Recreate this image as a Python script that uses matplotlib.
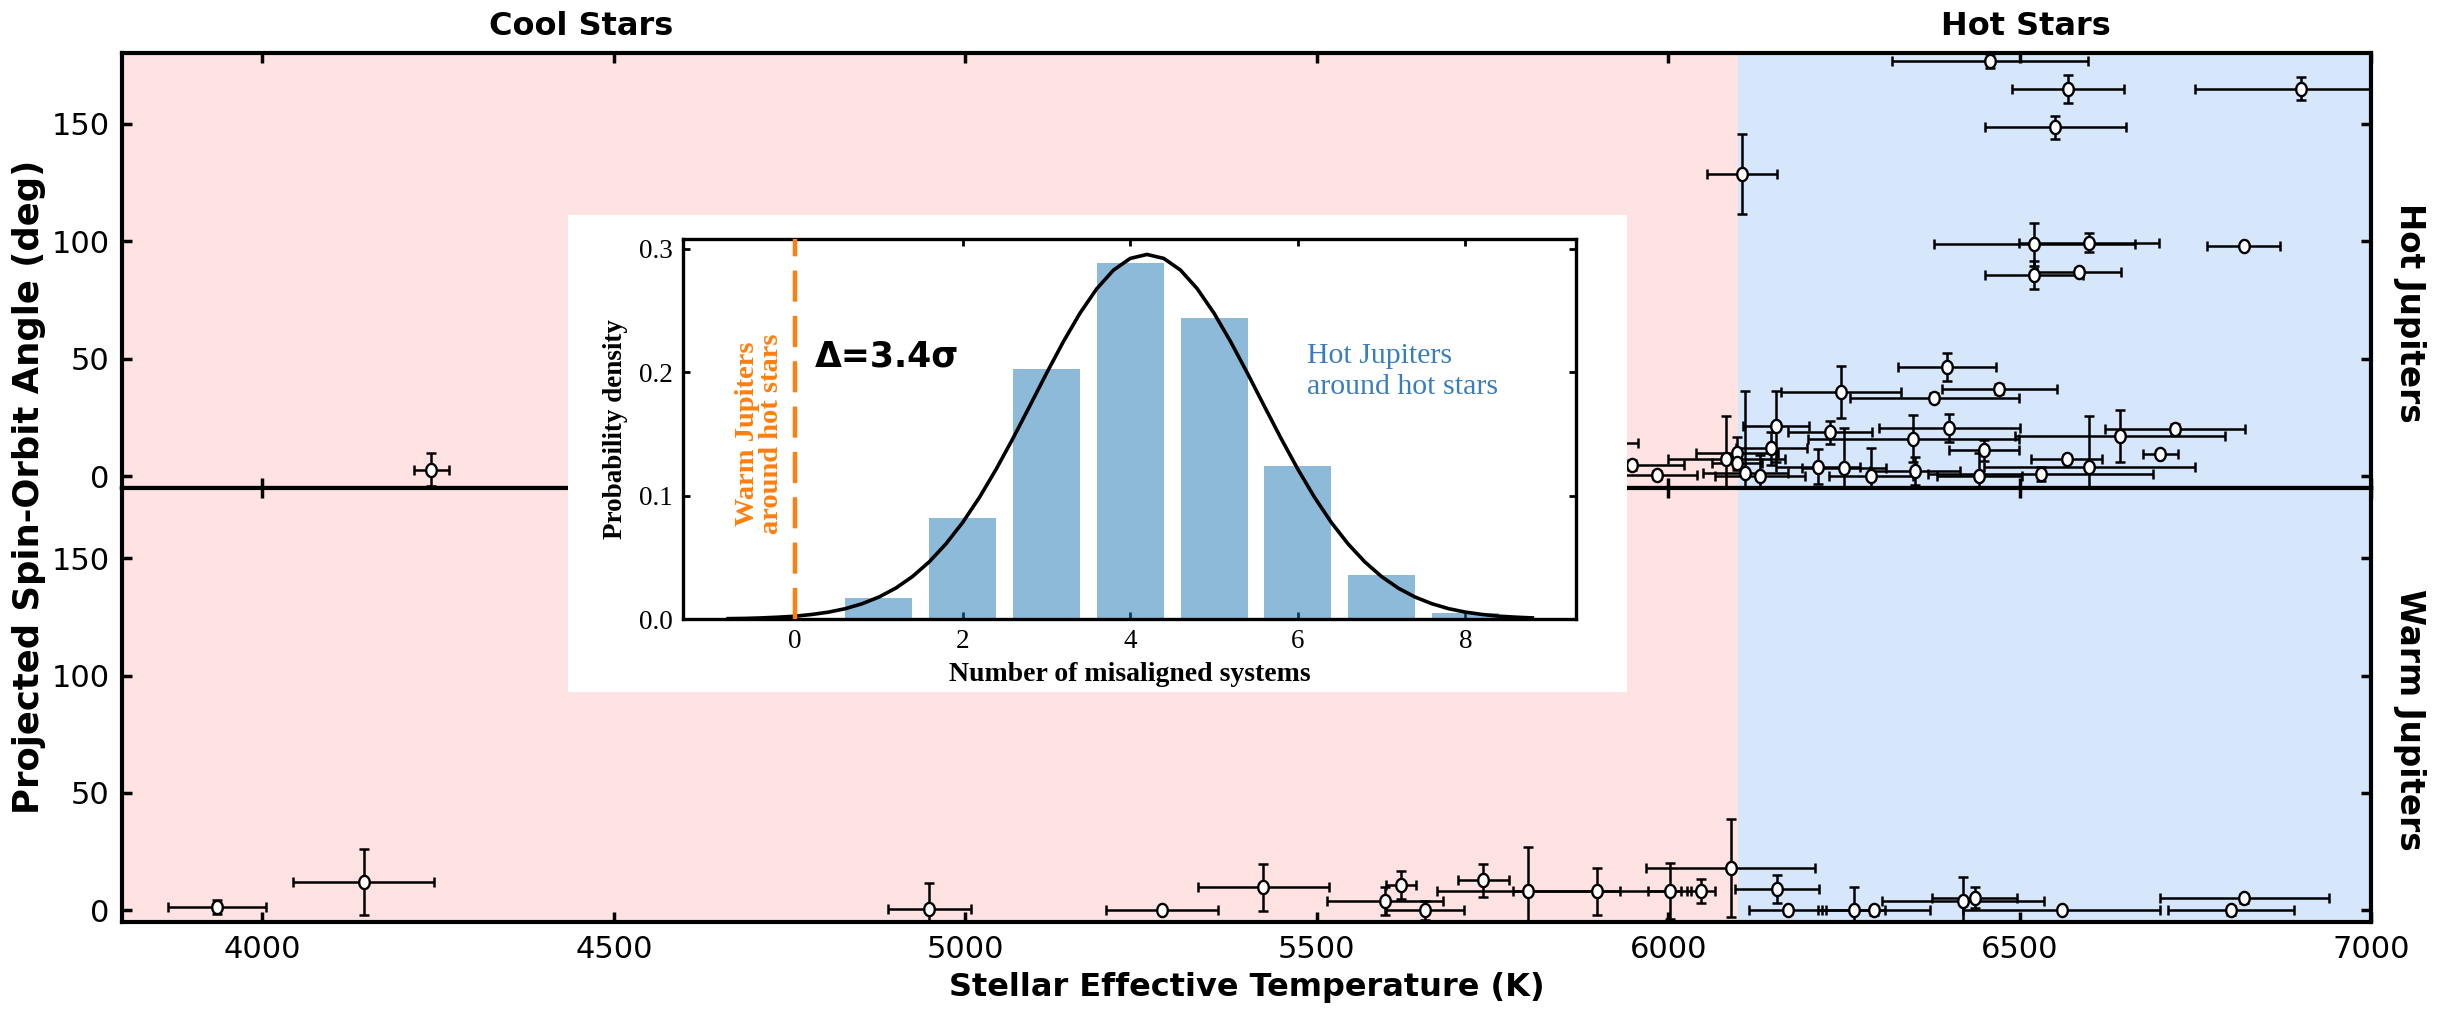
import numpy as np
import matplotlib
matplotlib.use("Agg")
import matplotlib.pyplot as plt
from matplotlib.path import Path

# ---------------- data ----------------
# Hot Jupiters (upper panel): Teff [K], err, projected obliquity [deg], err
hj_teff = [6458, 6569, 6900, 6551, 6105, 6521, 6599, 6819, 6521, 6585,
           4240, 5880, 5948, 5984, 6083, 6098, 6098, 6110, 6131, 6154,
           6147, 6230, 6246, 6213, 6250, 6397, 6471, 6379, 6400, 6349,
           6449, 6567, 6599, 6289, 6351, 6443, 6530, 6643, 6721, 6700]
hj_teff_err = [140, 80, 150, 100, 50, 143, 100, 52, 70, 60,
               25, 77, 75, 57, 83, 58, 35, 60, 64, 47,
               50, 60, 86, 60, 60, 70, 82, 120, 100, 150,
               50, 50, 150, 60, 64, 60, 160, 150, 100, 25]
hj_lambda = [176.4, 164.8, 164.8, 148.4, 128.6, 98.6, 99.3, 97.8, 85.5, 87.0,
             2.7, 14.0, 4.8, 0.5, 7.5, 9.8, 5.4, 1.3, 0.1, 21.2,
             11.9, 18.6, 35.8, 4.1, 3.5, 46.6, 37.0, 33.4, 20.5, 16.0,
             11.0, 7.5, 3.7, 0.0, 2.3, 0.0, 0.8, 17.1, 20.0, 9.6]
hj_lambda_err = [3, 6, 5, 5, 17, 9, 4, 1, 6, 1.5,
                 7, 3, 2, 1.5, 18, 7, 2, 35, 9, 15,
                 7, 5, 11, 7.5, 17, 6, 2, 2, 6, 10,
                 4.5, 1.5, 22, 12, 6, 10, 3, 11, 2, 1.5]

# Warm Jupiters (lower panel)
wj_teff = [3935, 4144, 4949, 5280, 5424, 5597, 5620, 5654, 5737, 5801,
           5899, 6002, 6047, 6089, 6155, 6170, 6264, 6293, 6420, 6436,
           6560, 6820, 6801]
wj_teff_err = [70, 100, 59, 80, 93, 83, 21, 56, 36, 130,
               120, 30, 20, 120, 60, 55, 45, 80, 115, 60,
               140, 120, 90]
wj_lambda = [1.5, 12.2, 0.5, 0.0, 9.9, 4.0, 10.8, 0.0, 12.7, 8.1,
             8.1, 8.1, 8.2, 18.1, 9.2, 0.0, 0.0, 0.0, 4.0, 5.4,
             0.0, 5.1, 0.0]
wj_lambda_err = [3, 14, 11, 1, 10, 6, 6, 4, 7, 19,
                 10, 12, 5, 21, 6, 1.5, 10, 2, 10, 4.5,
                 1, 2, 2]

teff_boundary = 6100
x_ticks = [4000, 4500, 5000, 5500, 6000, 6500, 7000]
y_ticks = [0, 50, 100, 150]

# Inset: number of misaligned systems
n_misaligned = [1, 2, 3, 4, 5, 6, 7, 8]
prob_density = [0.0174, 0.0816, 0.2023, 0.2888, 0.2439, 0.1237, 0.0359, 0.0046]
curve_n = [-0.8, -0.6, -0.4, -0.2, 0.0, 0.2, 0.4, 0.6, 0.8, 1.0,
           1.2, 1.4, 1.6, 1.8, 2.0, 2.2, 2.4, 2.6, 2.8, 3.0,
           3.2, 3.4, 3.6, 3.8, 4.0, 4.2, 4.4, 4.6, 4.8, 5.0,
           5.2, 5.4, 5.6, 5.8, 6.0, 6.2, 6.4, 6.6, 6.8, 7.0,
           7.2, 7.4, 7.6, 7.8, 8.0, 8.2, 8.4, 8.6, 8.8]
curve_pdf = [0.0003, 0.0005, 0.0009, 0.0015, 0.0023, 0.0037, 0.0056, 0.0084, 0.0124, 0.0178,
             0.0250, 0.0344, 0.0463, 0.0609, 0.0783, 0.0986, 0.1215, 0.1464, 0.1726, 0.1991,
             0.2246, 0.2479, 0.2677, 0.2828, 0.2923, 0.2955, 0.2923, 0.2828, 0.2677, 0.2479,
             0.2246, 0.1991, 0.1726, 0.1464, 0.1215, 0.0986, 0.0783, 0.0609, 0.0463, 0.0344,
             0.0250, 0.0178, 0.0124, 0.0084, 0.0056, 0.0037, 0.0023, 0.0015, 0.0009]
warm_hot_misaligned = 0
inset_xticks = [0, 2, 4, 6, 8]
inset_yticks = [0.0, 0.1, 0.2, 0.3]

# ---------------- style ----------------
PINK = "#ffe3e3"
BLUE = "#d6e7fc"
plt.rcParams["font.family"] = ["DejaVu Sans"]

theta = np.linspace(0, 2 * np.pi, 60)
ell_marker = Path(np.column_stack([0.8 * np.cos(theta), np.sin(theta)]), closed=True)

fig = plt.figure(figsize=(24.38, 10.09), dpi=100)
left, width = 0.0500, 0.9225
ax1 = fig.add_axes([left, 0.5164, width, 0.4311])
ax2 = fig.add_axes([left, 0.0862, width, 0.4302])


def style_main(ax, bottom_labels):
    ax.set_xlim(3800, 7000)
    ax.set_ylim(-5, 180)
    ax.axvspan(3800, teff_boundary, color=PINK, zorder=0, lw=0)
    ax.axvspan(teff_boundary, 7000, color=BLUE, zorder=0, lw=0)
    ax.set_xticks(x_ticks)
    ax.set_yticks(y_ticks)
    ax.tick_params(direction="in", top=True, right=True, length=7, width=2.5,
                   labelsize=22, pad=9, labelbottom=bottom_labels)
    for s in ax.spines.values():
        s.set_linewidth(3)
        s.set_zorder(10)


def draw_points(ax, x, xe, y, ye):
    ax.errorbar(x, y, xerr=xe, yerr=ye, fmt="none", ecolor="black",
                elinewidth=1.8, capsize=3.6, capthick=1.8, zorder=3)
    ax.plot(x, y, ls="none", marker=ell_marker, ms=9.5, mfc="white",
            mec="black", mew=1.7, zorder=4)


style_main(ax1, False)
style_main(ax2, True)
draw_points(ax1, hj_teff, hj_teff_err, hj_lambda, hj_lambda_err)
draw_points(ax2, wj_teff, wj_teff_err, wj_lambda, wj_lambda_err)

ax2.set_xlabel("Stellar Effective Temperature (K)", fontsize=23,
               fontweight="bold", labelpad=6)
fig.text(0.012, 0.517, "Projected Spin-Orbit Angle (deg)", rotation=90,
         fontsize=25.5, fontweight="bold", ha="center", va="center")

ax1.text(0.204, 1.025, "Cool Stars", transform=ax1.transAxes, fontsize=23,
         fontweight="bold", ha="center", va="bottom")
ax1.text(0.8466, 1.025, "Hot Stars", transform=ax1.transAxes, fontsize=23,
         fontweight="bold", ha="center", va="bottom")
ax1.text(1.0098, 0.403, "Hot Jupiters", transform=ax1.transAxes, rotation=270,
         fontsize=23.5, fontweight="bold", ha="left", va="center")
ax2.text(1.0098, 0.465, "Warm Jupiters", transform=ax2.transAxes, rotation=270,
         fontsize=23.5, fontweight="bold", ha="left", va="center")

# ---------------- inset ----------------
box = fig.add_axes([0.2330, 0.3142, 0.4344, 0.4727], zorder=5)
box.set_facecolor("white")
box.set_xticks([])
box.set_yticks([])
for s in box.spines.values():
    s.set_visible(False)

ins = fig.add_axes([0.2801, 0.3865, 0.3663, 0.3766], zorder=6)
serif = ["Liberation Serif", "DejaVu Serif"]
ins.bar(n_misaligned, prob_density, width=0.8, color="tab:blue", alpha=0.5,
        lw=0, zorder=2)
ins.plot(curve_n, curve_pdf, color="black", lw=2.6, zorder=3)
ins.axvline(warm_hot_misaligned, color="#ff7f0e", lw=3.2, dashes=(7, 3.2), zorder=4)
ins.set_xlim(-1.34, 9.32)
ins.set_ylim(0, 0.308)
ins.set_xticks(inset_xticks)
ins.set_yticks(inset_yticks)
ins.set_yticklabels(["0.0", "0.1", "0.2", "0.3"])
ins.tick_params(direction="in", top=True, right=True, length=5, width=2,
                labelsize=19.5, pad=7)
for lab in ins.get_xticklabels() + ins.get_yticklabels():
    lab.set_family(serif)
for s in ins.spines.values():
    s.set_linewidth(2.4)
ins.set_xlabel("Number of misaligned systems", fontsize=20, fontweight="bold",
               family=serif, labelpad=6)
ins.set_ylabel("Probability density", fontsize=19.5, fontweight="bold",
               family=serif, labelpad=8)
ins.text(-0.42, 0.15, "Warm Jupiters\naround hot stars", rotation=90,
         color="#ff7f0e", fontsize=20.5, fontweight="bold", family=serif,
         ha="center", va="center", linespacing=0.95)
ins.text(0.24, 0.213, "Δ=3.4σ", fontsize=25, fontweight="bold",
         ha="left", va="center", color="black")
ins.text(6.11, 0.2005, "Hot Jupiters\naround hot stars", fontsize=21.5,
         color="#3a7dbf", family=serif, ha="left", va="center", linespacing=1.25)

fig.savefig("out.png", dpi=100)
